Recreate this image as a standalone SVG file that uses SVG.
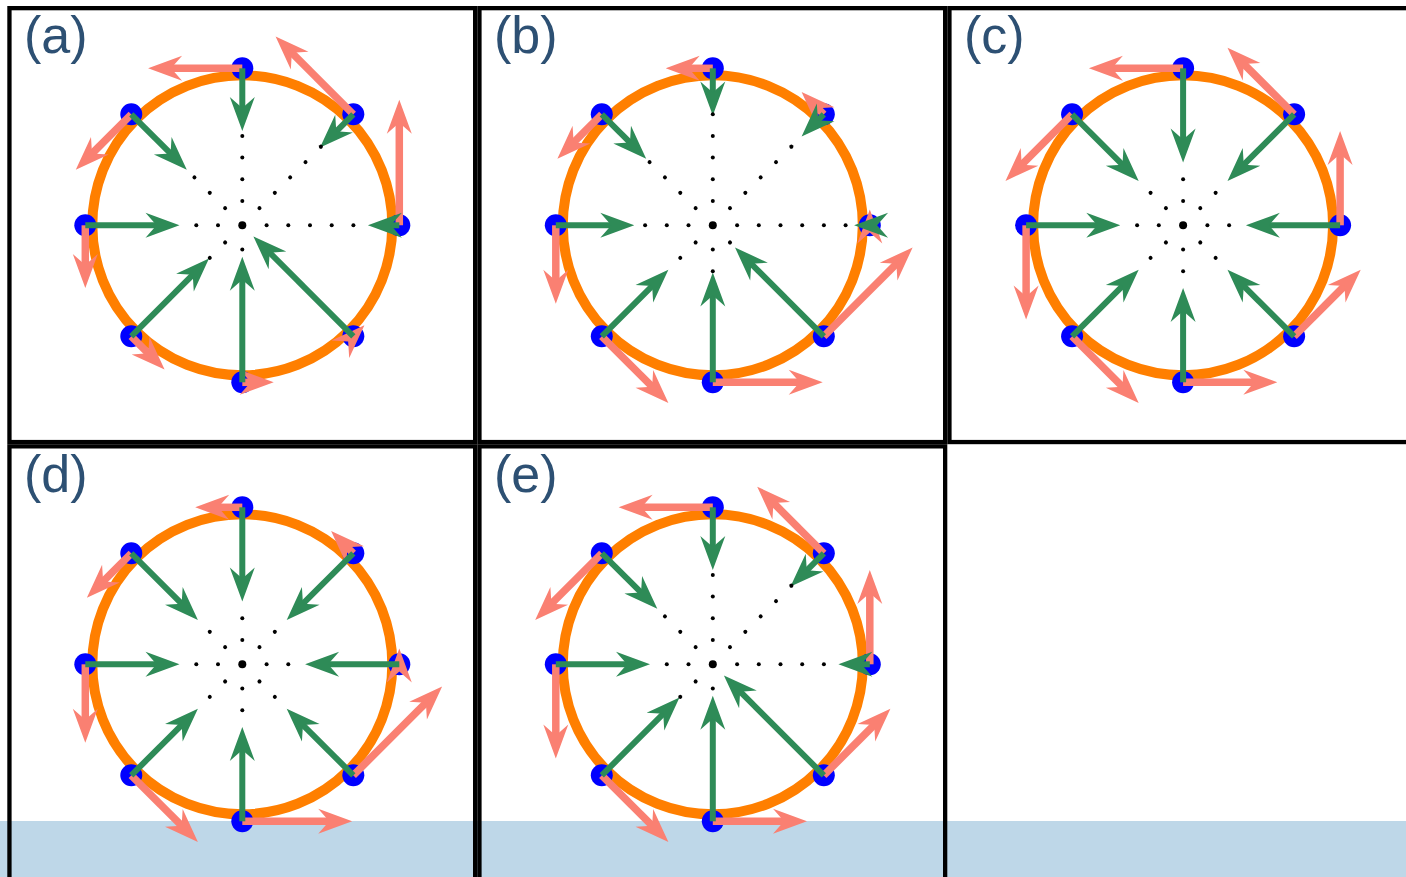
<svg xmlns="http://www.w3.org/2000/svg" xmlns:xlink="http://www.w3.org/1999/xlink" width="1406" height="877" viewBox="0 0 1406 877">
<style>
.frame{fill:none;stroke:#000;stroke-width:4.3}
.ring{fill:none;stroke:#ff7f00;stroke-width:10}
.gl{stroke:#2e8b57;stroke-width:6;fill:none}
.sl{stroke:#fa8072;stroke-width:7.5;fill:none}
.lbl{font-family:"Liberation Sans",Arial,sans-serif;font-size:52px;fill:#2d5073}
</style>
<defs>
<path id="hg" d="M0,0 L-34,-12.5 L-23,0 L-34,12.5 Z" fill="#2e8b57"/>
<path id="hs" d="M0,0 L-34,-12.5 L-23,0 L-34,12.5 Z" fill="#fa8072"/>
<circle id="bd" cx="157" cy="0" r="11" fill="#0000ff"/>
<g id="G1"><use href="#hg" transform="translate(141.3,0) rotate(180)"/></g>
<g id="G2"><line class="gl" x1="157" y1="0" x2="147.6" y2="0"/><use href="#hg" transform="translate(125.6,0) rotate(180)"/></g>
<g id="G3"><line class="gl" x1="157" y1="0" x2="131.9" y2="0"/><use href="#hg" transform="translate(109.9,0) rotate(180)"/></g>
<g id="G4"><line class="gl" x1="157" y1="0" x2="116.2" y2="0"/><use href="#hg" transform="translate(94.2,0) rotate(180)"/></g>
<g id="G5"><line class="gl" x1="157" y1="0" x2="100.5" y2="0"/><use href="#hg" transform="translate(78.5,0) rotate(180)"/></g>
<g id="G6"><line class="gl" x1="157" y1="0" x2="84.8" y2="0"/><use href="#hg" transform="translate(62.8,0) rotate(180)"/></g>
<g id="G7"><line class="gl" x1="157" y1="0" x2="69.1" y2="0"/><use href="#hg" transform="translate(47.1,0) rotate(180)"/></g>
<g id="G8"><line class="gl" x1="157" y1="0" x2="53.4" y2="0"/><use href="#hg" transform="translate(31.4,0) rotate(180)"/></g>
<g id="G9"><line class="gl" x1="157" y1="0" x2="37.7" y2="0"/><use href="#hg" transform="translate(15.7,0) rotate(180)"/></g>
<g id="S1"><use href="#hs" transform="translate(157,-15.7) rotate(-90)"/></g>
<g id="S2"><line class="sl" x1="157" y1="0" x2="157" y2="-9.4"/><use href="#hs" transform="translate(157,-31.4) rotate(-90)"/></g>
<g id="S3"><line class="sl" x1="157" y1="0" x2="157" y2="-25.1"/><use href="#hs" transform="translate(157,-47.1) rotate(-90)"/></g>
<g id="S4"><line class="sl" x1="157" y1="0" x2="157" y2="-40.8"/><use href="#hs" transform="translate(157,-62.8) rotate(-90)"/></g>
<g id="S5"><line class="sl" x1="157" y1="0" x2="157" y2="-56.5"/><use href="#hs" transform="translate(157,-78.5) rotate(-90)"/></g>
<g id="S6"><line class="sl" x1="157" y1="0" x2="157" y2="-72.2"/><use href="#hs" transform="translate(157,-94.2) rotate(-90)"/></g>
<g id="S7"><line class="sl" x1="157" y1="0" x2="157" y2="-87.9"/><use href="#hs" transform="translate(157,-109.9) rotate(-90)"/></g>
<g id="S8"><line class="sl" x1="157" y1="0" x2="157" y2="-103.6"/><use href="#hs" transform="translate(157,-125.6) rotate(-90)"/></g>
<g id="D1" fill="#000"><circle cx="24.3" cy="0" r="2"/></g>
<g id="D2" fill="#000"><circle cx="24.3" cy="0" r="2"/><circle cx="46" cy="0" r="2"/></g>
<g id="D3" fill="#000"><use href="#D2"/><circle cx="67.7" cy="0" r="2"/></g>
<g id="D4" fill="#000"><use href="#D3"/><circle cx="89.4" cy="0" r="2"/></g>
<g id="D5" fill="#000"><use href="#D4"/><circle cx="111.1" cy="0" r="2"/></g>
<g id="D6" fill="#000"><use href="#D5"/><circle cx="132.8" cy="0" r="2"/></g>
<g id="base">
<circle r="150" class="ring"/>
<use href="#bd"/><use href="#bd" transform="rotate(-45)"/><use href="#bd" transform="rotate(-90)"/><use href="#bd" transform="rotate(-135)"/>
<use href="#bd" transform="rotate(-180)"/><use href="#bd" transform="rotate(-225)"/><use href="#bd" transform="rotate(-270)"/><use href="#bd" transform="rotate(-315)"/>
</g>
</defs>
<rect x="0" y="0" width="1406" height="877" fill="#fff"/>
<rect id="floor" x="0" y="821" width="1406" height="56" fill="#bed7e8"/>
<g id="frames">
<rect class="frame" x="9.45" y="8.15" width="465.7" height="433.9"/>
<rect class="frame" x="479.45" y="8.15" width="465.7" height="433.9"/>
<rect class="frame" x="949.45" y="8.15" width="465.7" height="433.9"/>
<rect class="frame" x="9.45" y="446.35" width="465.7" height="433.9"/>
<rect class="frame" x="479.45" y="446.35" width="465.7" height="433.9"/>
</g>
<g id="labels">
<text class="lbl" x="24" y="53">(a)</text>
<text class="lbl" x="494" y="53">(b)</text>
<text class="lbl" x="964" y="53">(c)</text>
<text class="lbl" x="24" y="492">(d)</text>
<text class="lbl" x="494" y="492">(e)</text>
</g>
<g id="panel-a" transform="translate(242.3,225.3)">
<use href="#base"/>
<g><use href="#S8"/><use href="#S7" transform="rotate(-45)"/><use href="#S6" transform="rotate(-90)"/><use href="#S5" transform="rotate(-135)"/><use href="#S4" transform="rotate(-180)"/><use href="#S3" transform="rotate(-225)"/><use href="#S2" transform="rotate(-270)"/><use href="#S1" transform="rotate(-315)"/></g>
<g><use href="#G2"/><use href="#G3" transform="rotate(-45)"/><use href="#G4" transform="rotate(-90)"/><use href="#G5" transform="rotate(-135)"/><use href="#G6" transform="rotate(-180)"/><use href="#G7" transform="rotate(-225)"/><use href="#G8" transform="rotate(-270)"/><use href="#G9" transform="rotate(-315)"/></g>
<g><use href="#D5"/><use href="#D5" transform="rotate(-45)"/><use href="#D4" transform="rotate(-90)"/><use href="#D3" transform="rotate(-135)"/><use href="#D2" transform="rotate(-180)"/><use href="#D2" transform="rotate(-225)"/><use href="#D1" transform="rotate(-270)"/></g>
<circle r="4" fill="#000"/>
</g>
<g id="panel-b" transform="translate(712.8,225.3)">
<use href="#base"/>
<g><use href="#S1"/><use href="#S2" transform="rotate(-45)"/><use href="#S3" transform="rotate(-90)"/><use href="#S4" transform="rotate(-135)"/><use href="#S5" transform="rotate(-180)"/><use href="#S6" transform="rotate(-225)"/><use href="#S7" transform="rotate(-270)"/><use href="#S8" transform="rotate(-315)"/></g>
<g><use href="#G1"/><use href="#G2" transform="rotate(-45)"/><use href="#G3" transform="rotate(-90)"/><use href="#G4" transform="rotate(-135)"/><use href="#G5" transform="rotate(-180)"/><use href="#G6" transform="rotate(-225)"/><use href="#G7" transform="rotate(-270)"/><use href="#G8" transform="rotate(-315)"/></g>
<g><use href="#D6"/><use href="#D5" transform="rotate(-45)"/><use href="#D5" transform="rotate(-90)"/><use href="#D4" transform="rotate(-135)"/><use href="#D3" transform="rotate(-180)"/><use href="#D2" transform="rotate(-225)"/><use href="#D2" transform="rotate(-270)"/><use href="#D1" transform="rotate(-315)"/></g>
<circle r="4" fill="#000"/>
</g>
<g id="panel-c" transform="translate(1183.1,225.3)">
<use href="#base"/>
<g><use href="#S6"/><use href="#S6" transform="rotate(-45)"/><use href="#S6" transform="rotate(-90)"/><use href="#S6" transform="rotate(-135)"/><use href="#S6" transform="rotate(-180)"/><use href="#S6" transform="rotate(-225)"/><use href="#S6" transform="rotate(-270)"/><use href="#S6" transform="rotate(-315)"/></g>
<g><use href="#G6"/><use href="#G6" transform="rotate(-45)"/><use href="#G6" transform="rotate(-90)"/><use href="#G6" transform="rotate(-135)"/><use href="#G6" transform="rotate(-180)"/><use href="#G6" transform="rotate(-225)"/><use href="#G6" transform="rotate(-270)"/><use href="#G6" transform="rotate(-315)"/></g>
<g><use href="#D2"/><use href="#D2" transform="rotate(-45)"/><use href="#D2" transform="rotate(-90)"/><use href="#D2" transform="rotate(-135)"/><use href="#D2" transform="rotate(-180)"/><use href="#D2" transform="rotate(-225)"/><use href="#D2" transform="rotate(-270)"/><use href="#D2" transform="rotate(-315)"/></g>
<circle r="4" fill="#000"/>
</g>
<g id="panel-d" transform="translate(242.3,664.3)">
<use href="#base"/>
<g><use href="#S1"/><use href="#S2" transform="rotate(-45)"/><use href="#S3" transform="rotate(-90)"/><use href="#S4" transform="rotate(-135)"/><use href="#S5" transform="rotate(-180)"/><use href="#S6" transform="rotate(-225)"/><use href="#S7" transform="rotate(-270)"/><use href="#S8" transform="rotate(-315)"/></g>
<g><use href="#G6"/><use href="#G6" transform="rotate(-45)"/><use href="#G6" transform="rotate(-90)"/><use href="#G6" transform="rotate(-135)"/><use href="#G6" transform="rotate(-180)"/><use href="#G6" transform="rotate(-225)"/><use href="#G6" transform="rotate(-270)"/><use href="#G6" transform="rotate(-315)"/></g>
<g><use href="#D2"/><use href="#D2" transform="rotate(-45)"/><use href="#D2" transform="rotate(-90)"/><use href="#D2" transform="rotate(-135)"/><use href="#D2" transform="rotate(-180)"/><use href="#D2" transform="rotate(-225)"/><use href="#D2" transform="rotate(-270)"/><use href="#D2" transform="rotate(-315)"/></g>
<circle r="4" fill="#000"/>
</g>
<g id="panel-e" transform="translate(712.8,664.3)">
<use href="#base"/>
<g><use href="#S6"/><use href="#S6" transform="rotate(-45)"/><use href="#S6" transform="rotate(-90)"/><use href="#S6" transform="rotate(-135)"/><use href="#S6" transform="rotate(-180)"/><use href="#S6" transform="rotate(-225)"/><use href="#S6" transform="rotate(-270)"/><use href="#S6" transform="rotate(-315)"/></g>
<g><use href="#G2"/><use href="#G3" transform="rotate(-45)"/><use href="#G4" transform="rotate(-90)"/><use href="#G5" transform="rotate(-135)"/><use href="#G6" transform="rotate(-180)"/><use href="#G7" transform="rotate(-225)"/><use href="#G8" transform="rotate(-270)"/><use href="#G9" transform="rotate(-315)"/></g>
<g><use href="#D5"/><use href="#D5" transform="rotate(-45)"/><use href="#D4" transform="rotate(-90)"/><use href="#D3" transform="rotate(-135)"/><use href="#D2" transform="rotate(-180)"/><use href="#D2" transform="rotate(-225)"/><use href="#D1" transform="rotate(-270)"/></g>
<circle r="4" fill="#000"/>
</g>
</svg>
